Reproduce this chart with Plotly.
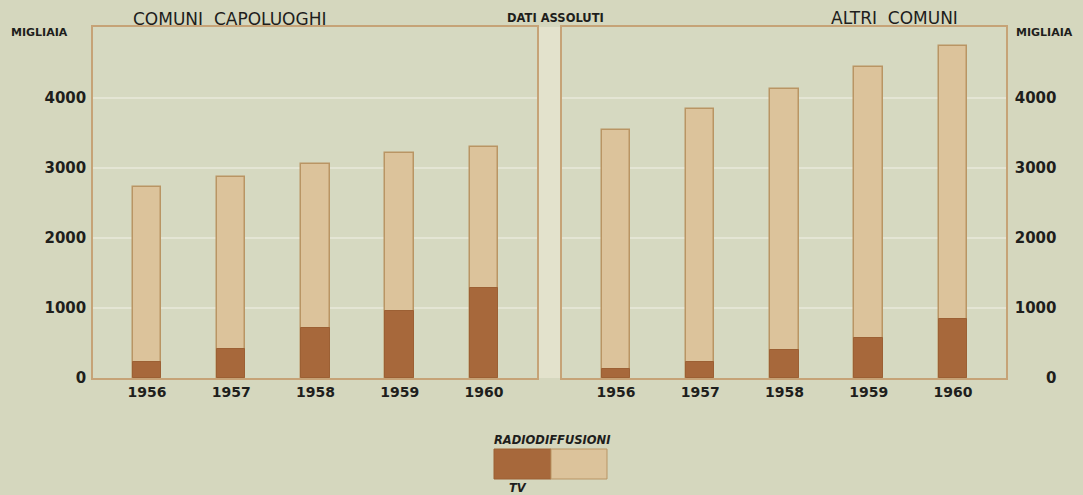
import plotly.graph_objects as go

# Abbonamenti (migliaia) — radiodiffusioni totali e di cui televisione
years = ["1956", "1957", "1958", "1959", "1960"]
capoluoghi_radio = [2720, 2876, 3053, 3210, 3295]
capoluoghi_tv = [229, 420, 707, 957, 1290]
altri_radio = [3543, 3841, 4125, 4432, 4740]
altri_tv = [132, 235, 400, 577, 837]
y_ticks = [0, 1000, 2000, 3000, 4000]

W, H = 1083, 495
PAPER = "#d5d7be"
PLOT_BG = "#d6d9c1"
STRIP = "#e3e2cc"
LIGHT = "#dcc39b"
LIGHT_EDGE = "#b99564"
DARK = "#a7683b"
FRAME = "#c6a377"
GRID = "#e4e5d4"
INK = "#1e1e1c"
FONT = "DejaVu Sans"


def px_x(v):
    return v / W


def px_y(v):
    return 1 - v / H


fig = go.Figure()

for xa, ya, radio, tv in [("x", "y", capoluoghi_radio, capoluoghi_tv),
                          ("x2", "y2", altri_radio, altri_tv)]:
    fig.add_trace(go.Bar(
        x=years, y=radio, xaxis=xa, yaxis=ya, width=0.34,
        marker=dict(color=LIGHT, line=dict(color=LIGHT_EDGE, width=1.5)),
        showlegend=False, hoverinfo="y"))
    fig.add_trace(go.Bar(
        x=years, y=tv, xaxis=xa, yaxis=ya, width=0.34,
        marker=dict(color=DARK, line=dict(color="#9c6034", width=1)),
        showlegend=False, hoverinfo="y"))

y_dom = [px_y(378), px_y(27)]
x_range = [-0.64, 4.63]
y_range = [0, 5010]

common_x = dict(range=x_range, showgrid=False, zeroline=False, showline=True,
                linecolor=FRAME, linewidth=1.5, mirror=True, ticks="",
                tickfont=dict(family=FONT, size=14, color=INK, weight="bold"),
                ticklabelstandoff=0, automargin=False, fixedrange=True)
common_y = dict(range=y_range, domain=y_dom, tickvals=y_ticks,
                showgrid=True, gridcolor=GRID, gridwidth=2, zeroline=False,
                showline=True, linecolor=FRAME, linewidth=1.5, mirror=True,
                ticks="", automargin=False,
                tickfont=dict(family=FONT, size=15, color=INK, weight="bold"),
                fixedrange=True)

fig.update_layout(
    width=W, height=H,
    margin=dict(l=0, r=0, t=0, b=0, pad=0, autoexpand=False),
    paper_bgcolor=PAPER, plot_bgcolor=PLOT_BG,
    barmode="overlay", bargap=0,
    font=dict(family=FONT, color=INK),
    xaxis=dict(domain=[px_x(93), px_x(537)], anchor="y", **common_x),
    xaxis2=dict(domain=[px_x(562), px_x(1006)], anchor="y2", **common_x),
    yaxis=dict(anchor="x", side="left", ticklabelstandoff=2,
               ticktext=[str(v) for v in y_ticks], **common_y),
    yaxis2=dict(anchor="x2", side="right", ticklabelstandoff=4,
                ticktext=[str(v).rjust(4, "\u2007") for v in y_ticks],
                **common_y),
)

# light strip separating the two panels
fig.add_shape(type="rect", xref="paper", yref="paper",
              x0=px_x(538), x1=px_x(561), y0=px_y(378), y1=px_y(27),
              fillcolor=STRIP, line=dict(width=0), layer="below")

# legend swatches
fig.add_shape(type="rect", xref="paper", yref="paper",
              x0=px_x(494), x1=px_x(551), y0=px_y(479), y1=px_y(449),
              fillcolor=DARK, line=dict(color="#9c6034", width=1))
fig.add_shape(type="rect", xref="paper", yref="paper",
              x0=px_x(551), x1=px_x(607), y0=px_y(479), y1=px_y(449),
              fillcolor=LIGHT, line=dict(color=LIGHT_EDGE, width=1))

texts = [
    ("COMUNI\u00a0\u00a0CAPOLUOGHI", 229, 19, 17, False, False),
    ("DATI ASSOLUTI", 555, 18, 11.5, True, False),
    ("ALTRI\u00a0\u00a0COMUNI", 894, 18, 17, False, False),
    ("MIGLIAIA", 39, 33, 11, True, False),
    ("MIGLIAIA", 1044, 33, 11, True, False),
    ("RADIODIFFUSIONI", 552, 440, 11.5, True, True),
    ("TV", 518, 488, 11.5, True, True),
]
for txt, cx, cy, size, bold, italic in texts:
    label = txt
    if bold:
        label = f"<b>{label}</b>"
    if italic:
        label = f"<i>{label}</i>"
    fig.add_annotation(text=label, xref="paper", yref="paper",
                       x=px_x(cx), y=px_y(cy), xanchor="center",
                       yanchor="middle", showarrow=False,
                       font=dict(family=FONT, size=size, color=INK))

fig.write_html("out.html")
